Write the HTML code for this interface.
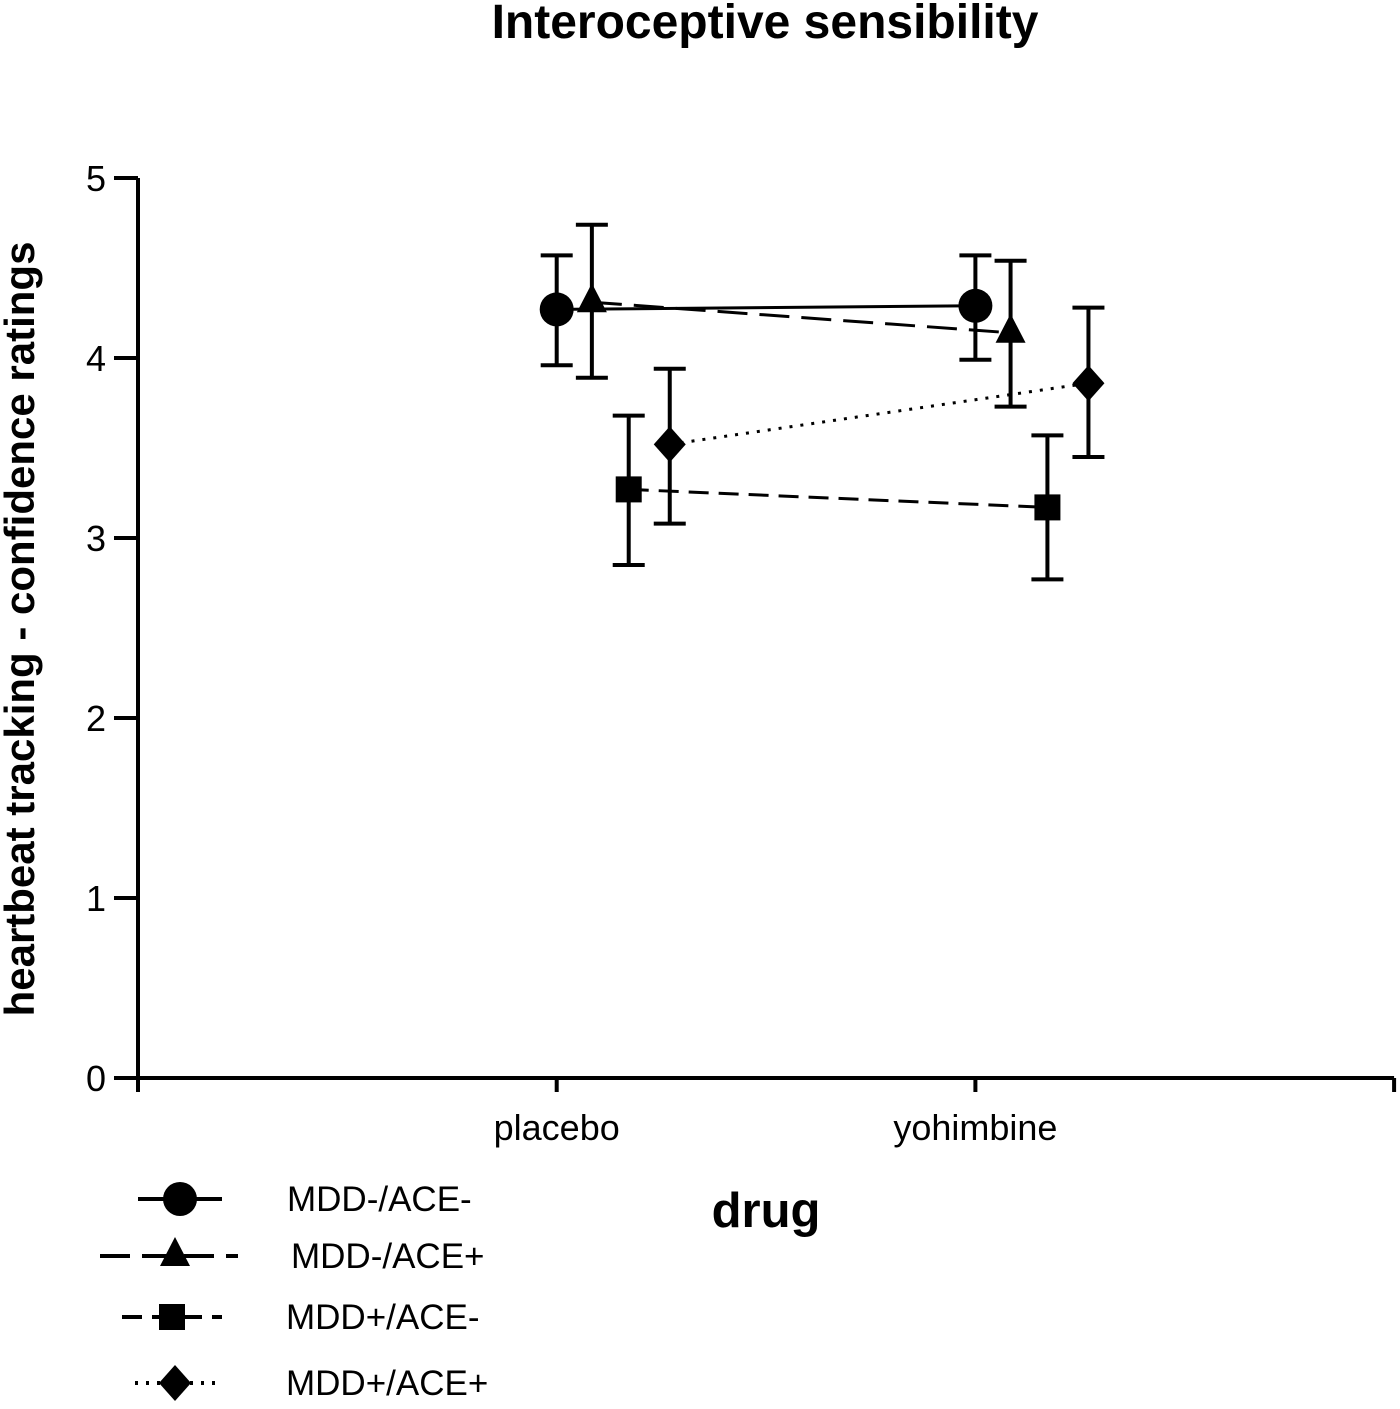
<!DOCTYPE html>
<html><head><meta charset="utf-8"><style>
body{margin:0;background:#fff}
svg text{font-family:"Liberation Sans",Arial,sans-serif;fill:#000}
</style></head><body>
<svg id="chart" width="1400" height="1404" viewBox="0 0 1400 1404" xmlns="http://www.w3.org/2000/svg">
<text x="765" y="38" font-size="48" font-weight="bold" text-anchor="middle">Interoceptive sensibility</text>
<text transform="translate(34,629) rotate(-90)" font-size="42" font-weight="bold" text-anchor="middle">heartbeat tracking - confidence ratings</text>
<text x="766" y="1227" font-size="49" font-weight="bold" text-anchor="middle">drug</text>
<g id="axes"></g><g id="series"></g><g id="legend"></g>
</svg>
<script>
const categories=["placebo","yohimbine"];
const yTicks=[0,1,2,3,4,5];
const seriesNames=["MDD-/ACE-","MDD-/ACE+","MDD+/ACE-","MDD+/ACE+"];
const meanA=[4.27,4.29], errHiA=[4.57,4.57], errLoA=[3.96,3.99];
const meanB=[4.31,4.14], errHiB=[4.74,4.54], errLoB=[3.89,3.73];
const meanC=[3.27,3.17], errHiC=[3.68,3.57], errLoC=[2.85,2.77];
const meanD=[3.52,3.86], errHiD=[3.94,4.28], errLoD=[3.08,3.45];
const NS="http://www.w3.org/2000/svg";
const X0=138,XW=418.7,Y0=1078,YU=180,SW=4;
const xs=v=>X0+XW*v, ys=v=>Y0-YU*v;
function mk(p,tag,at){const e=document.createElementNS(NS,tag);for(const k in at)e.setAttribute(k,at[k]);p.appendChild(e);return e;}
const ax=document.getElementById('axes');
let l=mk(ax,'line',{x1:X0,y1:ys(5),x2:X0,y2:Y0,stroke:'#000','stroke-width':SW});


l=mk(ax,'line',{x1:X0,y1:Y0,x2:xs(3),y2:Y0,stroke:'#000','stroke-width':SW});


yTicks.forEach(t=>{mk(ax,'line',{x1:X0-24,y1:ys(t),x2:X0,y2:ys(t),stroke:'#000','stroke-width':SW});
const tx=mk(ax,'text',{x:X0-32,y:ys(t)+13,'font-size':36,'text-anchor':'end'});tx.textContent=t;

});
[0,1,2,3].forEach(i=>mk(ax,'line',{x1:xs(i),y1:Y0,x2:xs(i),y2:Y0+14,stroke:'#000','stroke-width':SW}));
categories.forEach((c,i)=>{const tx=mk(ax,'text',{x:xs(i+1),y:1140,'font-size':36,'text-anchor':'middle'});tx.textContent=c;

});
const defs=[
 {m:meanA,h:errHiA,lo:errLoA,off:0,dash:'',mark:'circle'},
 {m:meanB,h:errHiB,lo:errLoB,off:0.084,dash:'30,12',mark:'tri'},
 {m:meanC,h:errHiC,lo:errLoC,off:0.172,dash:'20,10',mark:'sq'},
 {m:meanD,h:errHiD,lo:errLoD,off:0.27,dash:'3,8',mark:'dia'}];
function marker(g,type,x,y){
 if(type==='circle')return mk(g,'circle',{cx:x,cy:y,r:17,fill:'#000'});
 if(type==='tri')return mk(g,'polygon',{points:`${x},${y-19} ${x+15},${y+10} ${x-15},${y+10}`,fill:'#000'});
 if(type==='sq')return mk(g,'rect',{x:x-13,y:y-13,width:26,height:26,fill:'#000'});
 return mk(g,'polygon',{points:`${x},${y-18} ${x+16},${y} ${x},${y+18} ${x-16},${y}`,fill:'#000'});
}
const sg=document.getElementById('series');
defs.forEach((d,si)=>{
 const g=mk(sg,'g',{});
 
 
 const px=d.m.map((v,i)=>xs(i+1+d.off));
 const ln=mk(g,'line',{x1:px[0],y1:ys(d.m[0]),x2:px[1],y2:ys(d.m[1]),stroke:'#000','stroke-width':3,'stroke-dasharray':d.dash});
 
 
 d.m.forEach((v,i)=>{
  const x=px[i];
  mk(g,'line',{x1:x,y1:ys(d.h[i]),x2:x,y2:ys(d.lo[i]),stroke:'#000','stroke-width':SW});
  mk(g,'line',{x1:x-16,y1:ys(d.h[i]),x2:x+16,y2:ys(d.h[i]),stroke:'#000','stroke-width':SW});
  mk(g,'line',{x1:x-16,y1:ys(d.lo[i]),x2:x+16,y2:ys(d.lo[i]),stroke:'#000','stroke-width':SW});
  const mm=marker(g,d.mark,x,ys(v));
  
  
 });
});
const lg=document.getElementById('legend');
const ly=[1199,1256,1317,1383];
const lx=[[138,222],[100,238],[122,222],[135,215]];
const tx0=[287,291,286,286];
defs.forEach((d,i)=>{
 const g=mk(lg,'g',{});
 
 
 mk(g,'line',{x1:lx[i][0],y1:ly[i],x2:lx[i][1],y2:ly[i],stroke:'#000','stroke-width':SW,'stroke-dasharray':d.dash});
 marker(g,d.mark,(lx[i][0]+lx[i][1])/2+(i===1?6:0),ly[i]);
 const t=mk(g,'text',{x:tx0[i],y:ly[i]+12,'font-size':35});t.textContent=seriesNames[i];
});
</script>
</body></html>
